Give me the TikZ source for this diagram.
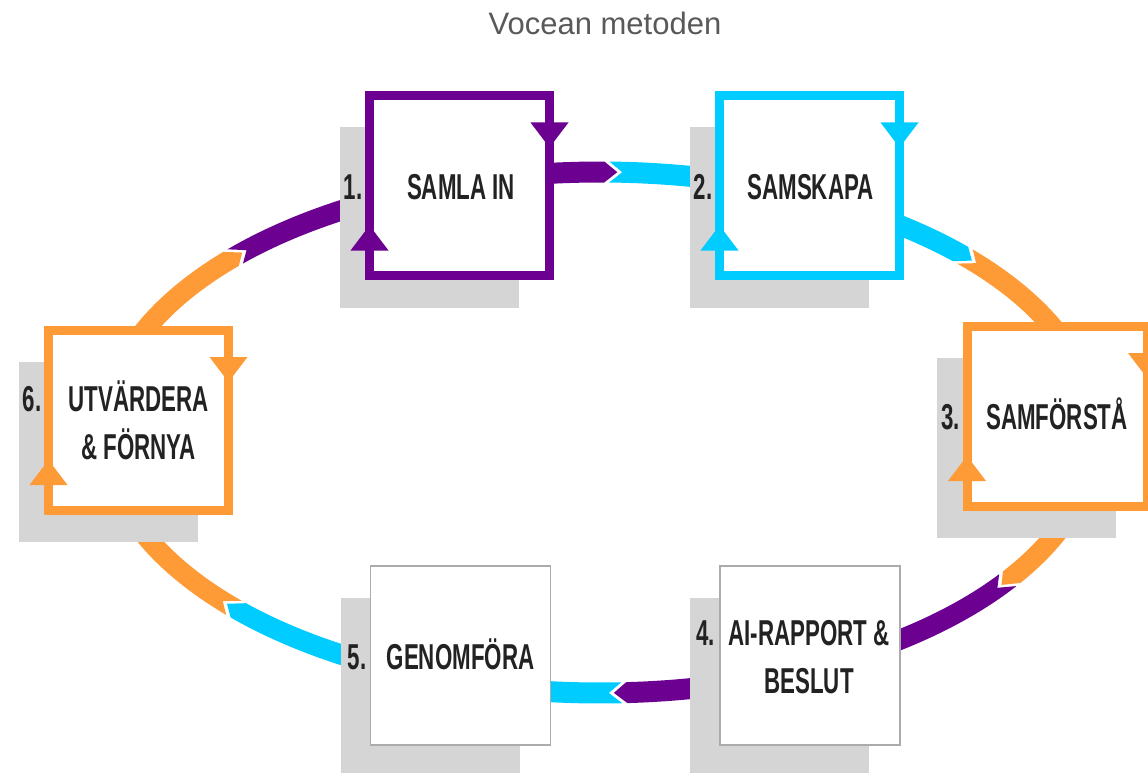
\documentclass[tikz,border=0pt]{standalone}
\usepackage{fontspec}
\setmainfont{Liberation Sans}
\newfontfamily\stepfont[FakeStretch=0.62]{Liberation Sans}
\usetikzlibrary{calc}
\definecolor{vpurple}{RGB}{107,0,145}
\definecolor{vcyan}{RGB}{0,204,255}
\definecolor{vorange}{RGB}{255,155,55}
\definecolor{vshadow}{RGB}{213,213,213}
\definecolor{vtext}{RGB}{34,34,34}
\definecolor{vtitle}{RGB}{89,89,89}

\tikzset{
  stepbox/.style={draw=#1, line width=9pt, fill=white, minimum width=180pt, minimum height=180pt, outer sep=0pt, inner sep=0pt},
  plainbox/.style={draw=black!33, line width=1.2pt, fill=white, minimum width=180pt, minimum height=179pt, outer sep=0pt, inner sep=0pt},
  steptext/.style={font=\stepfont\bfseries\fontsize{36}{48}\selectfont, text=vtext, anchor=base, inner sep=0pt},
  stepnum/.style={steptext, anchor=base east},
}

\newcommand{\shadowat}[1]{\fill[vshadow] ($(#1)+(-120,-58)$) rectangle ++(179,180);}
\newcommand{\turnmarks}[2]{
  \fill[#2] ($(#1.east)+(-19,-63)$) -- ++(38,0) -- ($(#1.east)+(0,-38)$) -- cycle;
  \fill[#2] ($(#1.west)+(-19,65)$) -- ++(38,0) -- ($(#1.west)+(0,40)$) -- cycle;
}
\newcommand{\gapat}[5]{
  \pgfmathsetmacro{\bandspeed}{sqrt((4.95*sin(#1))^2+(2.605*cos(#1))^2)*100*pi/180}
  \pgfmathsetmacro{\tipbase}{#1-13/\bandspeed}
  \pgfmathsetmacro{\notchin}{\tipbase+5/\bandspeed}
  \pgfmathsetmacro{\notchapex}{#1+5/\bandspeed}
  \fill[#2] (#3:505.5 and 271) arc[start angle=#3, end angle=\tipbase, x radius=505.5, y radius=271]
    -- (#1:495 and 260.5) -- (\tipbase:484.5 and 250)
    arc[start angle=\tipbase, end angle=#3, x radius=484.5, y radius=250] -- cycle;
  \fill[#4] (\notchin:505.5 and 271) arc[start angle=\notchin, end angle=#5, x radius=505.5, y radius=271]
    -- (#5:484.5 and 250) arc[start angle=#5, end angle=\notchin, x radius=484.5, y radius=250]
    -- (\notchapex:495 and 260.5) -- cycle;
}

\begin{document}
\begin{tikzpicture}[x=1pt, y=-1pt]
\useasboundingbox (0,0) rectangle (1148,773);
\fill[white] (0,0) rectangle (1148,773);

\coordinate (c1) at (459.5,185.5);
\coordinate (c2) at (809.5,185.5);
\coordinate (c3) at (1057,416);
\coordinate (c4) at (810,655.5);
\coordinate (c5) at (460.5,655.5);
\coordinate (c6) at (138.5,420);

\node[font=\fontsize{31}{36}\selectfont, text=vtitle, anchor=base] (title) at (605,35) {Vocean metoden};

\begin{scope}[shift={(600,432.5)}]
 \gapat{272}{vpurple}{253.5}{vcyan}{295}
 \gapat{318.7}{vcyan}{295}{vorange}{356.4}
 \gapat{35.8}{vorange}{-3.6}{vpurple}{65}
 \gapat{88.4}{vpurple}{65}{vcyan}{106}
 \gapat{138.9}{vcyan}{106}{vorange}{180}
 \gapat{223.7}{vorange}{180}{vpurple}{253.5}
\end{scope}

\shadowat{c1}
\shadowat{c2}
\shadowat{c3}
\shadowat{c4}
\shadowat{c5}
\shadowat{c6}

\node[stepbox=vpurple] (samla) at (c1) {};
\node[stepbox=vcyan] (samskapa) at (c2) {};
\node[stepbox=vorange] (samforsta) at (c3) {};
\node[plainbox] (rapport) at (c4) {};
\node[plainbox] (genomfora) at (c5) {};
\node[stepbox=vorange] (utvardera) at (c6) {};

\turnmarks{samla}{vpurple}
\turnmarks{samskapa}{vcyan}
\turnmarks{samforsta}{vorange}
\turnmarks{utvardera}{vorange}

\node[steptext] (t1) at ($(samla.center)+(1.5,13.5)$) {SAMLA IN};
\node[steptext] (t2) at ($(samskapa.center)+(1,13.5)$) {SAMSKAPA};
\node[steptext] (t3) at ($(samforsta.center)+(0,13.5)$) {SAMFÖRSTÅ};
\node[steptext] (t4a) at ($(rapport.center)+(-1,-10)$) {AI-RAPPORT \&};
\node[steptext] (t4b) at ($(rapport.center)+(-1,38)$) {BESLUT};
\node[steptext] (t5) at ($(genomfora.center)+(0,13.5)$) {GENOMFÖRA};
\node[steptext] (t6a) at ($(utvardera.center)+(0,-9)$) {UTVÄRDERA};
\node[steptext] (t6b) at ($(utvardera.center)+(0,39)$) {\& FÖRNYA};

\node[stepnum] (n1) at ($(samla.west)+(-7,13.5)$) {1.};
\node[stepnum] (n2) at ($(samskapa.west)+(-7,13.5)$) {2.};
\node[stepnum] (n3) at ($(samforsta.west)+(-7,13.5)$) {3.};
\node[stepnum] (n4) at ($(rapport.west)+(-5,-10)$) {4.};
\node[stepnum] (n5) at ($(genomfora.west)+(-4,13.5)$) {5.};
\node[stepnum] (n6) at ($(utvardera.west)+(-7,-9)$) {6.};
\end{tikzpicture}
\end{document}
